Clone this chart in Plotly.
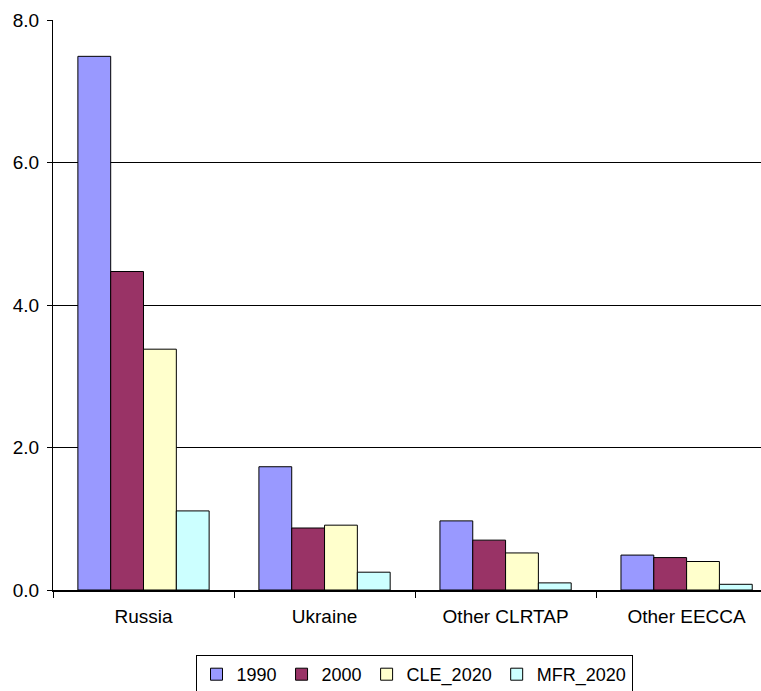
import plotly.graph_objects as go

categories = ["Russia", "Ukraine", "Other CLRTAP", "Other EECCA"]
series_names = ["1990", "2000", "CLE_2020", "MFR_2020"]
v1990 = [7.49, 1.73, 0.97, 0.49]
v2000 = [4.47, 0.87, 0.70, 0.455]
cle2020 = [3.38, 0.91, 0.52, 0.40]
mfr2020 = [1.11, 0.25, 0.10, 0.08]
colors = ["#9999FF", "#993366", "#FFFFCC", "#CCFFFF"]
ytickvals = [0, 2, 4, 6, 8]

FONT = "Liberation Sans, Arial, sans-serif"

fig = go.Figure()
for name, vals, col in zip(series_names, [v1990, v2000, cle2020, mfr2020], colors):
    fig.add_trace(go.Bar(
        x=categories, y=vals, name=name,
        marker=dict(color=col, line=dict(color="black", width=1)),
    ))

fig.update_layout(
    width=761, height=691,
    margin=dict(l=53, r=0, t=20, b=101),
    paper_bgcolor="white", plot_bgcolor="white",
    barmode="group", bargap=0.275, bargroupgap=0,
    font=dict(family=FONT, size=19, color="black"),
    showlegend=True,
    legend=dict(
        orientation="h",
        xref="container", x=414 / 761, xanchor="center",
        yref="container", y=1 - 655 / 691, yanchor="top",
        bordercolor="black", borderwidth=1,
        font=dict(family=FONT, size=18, color="black"),
        itemwidth=30, tracegroupgap=0,
    ),
    xaxis=dict(
        type="category",
        range=[-0.5, 3.411],
        showline=True, linecolor="black", linewidth=2,
        ticks="outside", tickson="boundaries", ticklen=6, tickcolor="black", tickwidth=1,
        ticklabelstandoff=8,
        showgrid=False,
        tickfont=dict(family=FONT, size=19, color="black"),
    ),
    yaxis=dict(
        range=[0, 8],
        tickvals=ytickvals, tickformat=".1f",
        showline=True, linecolor="black", linewidth=1,
        ticks="outside", ticklen=5, tickcolor="black",
        ticklabelstandoff=4,
        showgrid=True, gridcolor="black", gridwidth=1,
        zeroline=False,
        tickfont=dict(family=FONT, size=19, color="black"),
    ),
)

fig.write_html("out.html")
